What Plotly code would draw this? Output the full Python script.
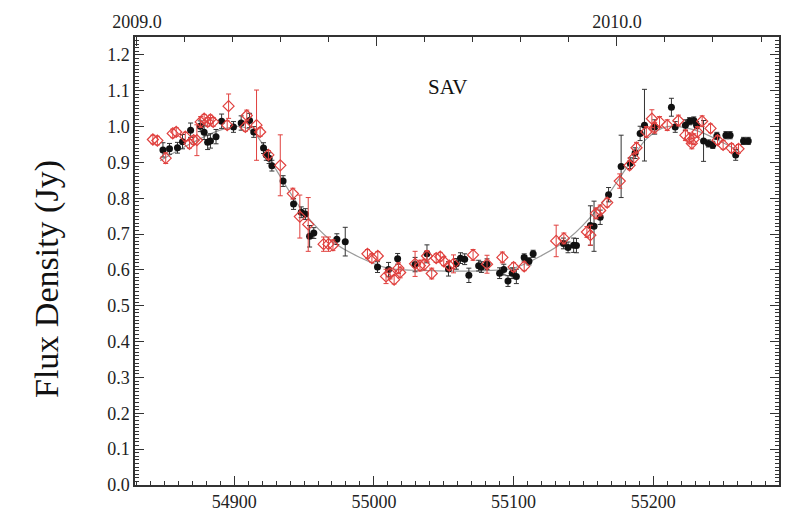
import plotly.graph_objects as go

# Black series (filled circles)
blk_x = [54849, 54853.7, 54859.4, 54863, 54868.8, 54875.7, 54878.5, 54881, 54883, 54887,
         54891, 54899.5, 54905, 54911, 54914, 54921, 54923, 54925, 54927, 54935,
         54942.5, 54948, 54951, 54954, 54957, 54973.5, 54979.5, 55002.6, 55010.5, 55017,
         55029.5, 55038, 55053.4, 55059, 55062, 55065, 55068, 55075, 55077, 55081,
         55090, 55093, 55096, 55099, 55102, 55107.6, 55111, 55114, 55135.7, 55139,
         55143, 55145, 55155, 55157.6, 55162, 55168, 55177, 55183.5, 55187, 55190.6,
         55193.7, 55201, 55213, 55215.7, 55223, 55226, 55229, 55231, 55236, 55239.5,
         55242.6, 55245.5, 55252, 55255, 55259, 55264.6, 55268]
blk_y = [0.935, 0.938, 0.941, 0.958, 0.990, 1.001, 0.984, 0.956, 0.960, 0.972,
         1.015, 0.999, 1.010, 1.017, 0.985, 0.940, 0.921, 0.912, 0.891, 0.848,
         0.784, 0.761, 0.756, 0.694, 0.703, 0.686, 0.679, 0.608, 0.601, 0.631,
         0.615, 0.645, 0.603, 0.617, 0.633, 0.630, 0.585, 0.612, 0.608, 0.616,
         0.591, 0.601, 0.569, 0.591, 0.582, 0.635, 0.624, 0.645, 0.674, 0.663,
         0.669, 0.668, 0.724, 0.722, 0.747, 0.810, 0.889, 0.898, 0.926, 0.981,
         1.004, 0.999, 1.054, 0.999, 1.004, 1.015, 1.017, 1.004, 0.960, 0.953,
         0.949, 0.974, 0.976, 0.976, 0.921, 0.960, 0.960]
blk_err = [0.02, 0.015, 0.015, 0.02, 0.02, 0.015, 0.02, 0.02, 0.02, 0.02,
           0.02, 0.015, 0.02, 0.02, 0.015, 0.015, 0.015, 0.015, 0.015, 0.015,
           0.015, 0.015, 0.015, 0.03, 0.015, 0.015, 0.04, 0.015, 0.02, 0.015,
           0.02, 0.025, 0.02, 0.015, 0.015, 0.015, 0.02, 0.015, 0.015, 0.015,
           0.015, 0.015, 0.015, 0.015, 0.02, 0.01, 0.01, 0.01, 0.015, 0.015,
           0.02, 0.02, 0.055, 0.07, 0.02, 0.02, 0.087, 0.015, 0.015, 0.02,
           0.1, 0.02, 0.025, 0.015, 0.015, 0.01, 0.01, 0.01, 0.057, 0.01,
           0.01, 0.01, 0.01, 0.01, 0.015, 0.01, 0.01]

# Red series (open diamonds)
red_x = [54841.8, 54845, 54851, 54856, 54858.5, 54865, 54868, 54871, 54873.3, 54876,
         54878.5, 54881, 54883, 54885, 54895, 54896, 54908, 54909, 54916, 54918.6,
         54924.5, 54933, 54942, 54947, 54953, 54964, 54967.5, 54970.7, 54995.4, 54998.6,
         55002.8, 55008.7, 55011.6, 55014.5, 55017.6, 55018.8, 55029.5, 55033, 55036, 55038,
         55041.4, 55044.6, 55047.5, 55050, 55054, 55057, 55071, 55081, 55092, 55100,
         55107.6, 55130.5, 55136, 55152.5, 55155, 55159, 55162, 55167, 55176, 55183,
         55186, 55188, 55195, 55199, 55201, 55204.5, 55210, 55218, 55223, 55226,
         55227.6, 55229, 55231.6, 55235, 55241, 55246, 55250, 55256, 55261]
red_y = [0.964, 0.961, 0.912, 0.981, 0.985, 0.972, 0.952, 0.962, 0.962, 1.013,
         1.022, 1.013, 1.020, 1.013, 1.004, 1.057, 0.999, 1.031, 1.004, 0.985,
         0.921, 0.892, 0.813, 0.749, 0.727, 0.672, 0.672, 0.669, 0.645, 0.633,
         0.639, 0.582, 0.590, 0.573, 0.605, 0.593, 0.617, 0.612, 0.615, 0.639,
         0.590, 0.633, 0.637, 0.624, 0.612, 0.617, 0.642, 0.616, 0.635, 0.608,
         0.610, 0.681, 0.688, 0.706, 0.697, 0.758, 0.766, 0.788, 0.848, 0.892,
         0.912, 0.941, 0.985, 1.022, 0.997, 1.013, 1.004, 1.017, 0.976, 0.967,
         0.953, 0.965, 0.985, 1.015, 0.995, 0.962, 0.949, 0.940, 0.938]
red_err = [0.012, 0.012, 0.015, 0.012, 0.012, 0.012, 0.012, 0.012, 0.043, 0.015,
           0.012, 0.012, 0.012, 0.012, 0.012, 0.034, 0.012, 0.015, 0.098, 0.012,
           0.012, 0.085, 0.015, 0.06, 0.075, 0.02, 0.02, 0.015, 0.012, 0.012,
           0.012, 0.02, 0.015, 0.012, 0.015, 0.015, 0.035, 0.015, 0.015, 0.015,
           0.015, 0.012, 0.012, 0.012, 0.012, 0.025, 0.015, 0.025, 0.015, 0.012,
           0.012, 0.044, 0.015, 0.015, 0.028, 0.015, 0.015, 0.012, 0.02, 0.012,
           0.012, 0.015, 0.015, 0.025, 0.015, 0.015, 0.015, 0.015, 0.015, 0.015,
           0.015, 0.015, 0.015, 0.015, 0.012, 0.012, 0.012, 0.012, 0.012]

# Model curve (grey line)
fit_x = [54847, 54870, 54890, 54905, 54915, 54930, 54950, 54970, 54990, 55010,
         55040, 55080, 55100, 55120, 55140, 55160, 55180, 55195, 55210, 55230,
         55250, 55262]
fit_y = [0.905, 0.955, 0.99, 1.0, 0.98, 0.88, 0.76, 0.68, 0.635, 0.605,
         0.598, 0.598, 0.605, 0.64, 0.69, 0.77, 0.88, 0.965, 1.0, 0.99,
         0.955, 0.93]

# Axis tick settings
x_range = [54829, 55290]
y_range = [0, 1.25]
top_range = [2008.996, 2010.3375]
top_tickvals = [2009.0, 2009.5, 2010.0]
top_ticktext = ["2009.0", "", "2010.0"]

SERIF = "Liberation Serif, Times New Roman, serif"
AX = "#333333"

fig = go.Figure()

fig.add_trace(go.Scatter(
    x=fit_x, y=fit_y, mode="lines", line=dict(color="#9a9a9a", width=1.2, shape="spline", smoothing=1.0),
    hoverinfo="skip", showlegend=False))

fig.add_trace(go.Scatter(
    x=blk_x, y=blk_y, mode="markers",
    marker=dict(symbol="circle", size=7, color="#111111"),
    error_y=dict(type="data", array=blk_err, color="#333333", thickness=1, width=2.5),
    showlegend=False))

fig.add_trace(go.Scatter(
    x=red_x, y=red_y, mode="markers",
    marker=dict(symbol="diamond-open", size=8.5, color="#e0403e", line=dict(width=1.2, color="#e0403e")),
    error_y=dict(type="data", array=red_err, color="#e0403e", thickness=1, width=2.5),
    showlegend=False))

# empty trace so the top (year) axis is drawn
fig.add_trace(go.Scatter(x=top_tickvals, y=[None] * len(top_tickvals), mode="lines",
                         xaxis="x2", yaxis="y", hoverinfo="skip", showlegend=False))

fig.add_annotation(x=55053, y=1.11, text="SAV", showarrow=False,
                   font=dict(family=SERIF, size=21, color="#111111"))

# y-axis title placed as annotation (pixel offsets relative to plot area)
fig.add_annotation(text="Flux Density (Jy)", textangle=-90, showarrow=False,
                   xref="paper", yref="paper", x=0, y=0.5, xanchor="center", yanchor="middle",
                   xshift=-88, yshift=-18,
                   font=dict(family=SERIF, size=34, color="#111111"))

fig.update_layout(
    width=793, height=524,
    margin=dict(l=135, r=14, t=37, b=32),
    paper_bgcolor="white", plot_bgcolor="white",
    xaxis=dict(range=x_range, showgrid=False, zeroline=False, showline=True, linecolor=AX, linewidth=1.5,
               mirror=False, ticks="inside", ticklen=9, tickwidth=1.2, tickcolor=AX, dtick=100, tick0=54900,
               tickformat="d", tickfont=dict(family=SERIF, size=18, color="#222222"),
               minor=dict(dtick=10, ticklen=4, ticks="inside", tickcolor=AX, tickwidth=1)),
    xaxis2=dict(range=top_range, overlaying="x", side="top", anchor="y", showgrid=False, zeroline=False,
                showline=True, linecolor=AX, linewidth=1.5, ticks="inside", ticklen=9, tickwidth=1.2,
                tickcolor=AX, tickmode="array", tickvals=top_tickvals, ticktext=top_ticktext,
                tickfont=dict(family=SERIF, size=18, color="#222222"),
                minor=dict(dtick=0.1, tick0=2009.0, ticklen=5, ticks="inside", tickcolor=AX, tickwidth=1)),
    yaxis=dict(range=y_range, showgrid=False, zeroline=False, showline=True, linecolor=AX, linewidth=1.5,
               mirror="ticks", ticks="inside", ticklen=9, tickwidth=1.2, tickcolor=AX, dtick=0.1,
               tickformat=".1f", tickfont=dict(family=SERIF, size=18, color="#222222"),
               minor=dict(dtick=0.01, ticklen=4, ticks="inside", tickcolor=AX, tickwidth=1)),
)

fig.write_html("out.html")
